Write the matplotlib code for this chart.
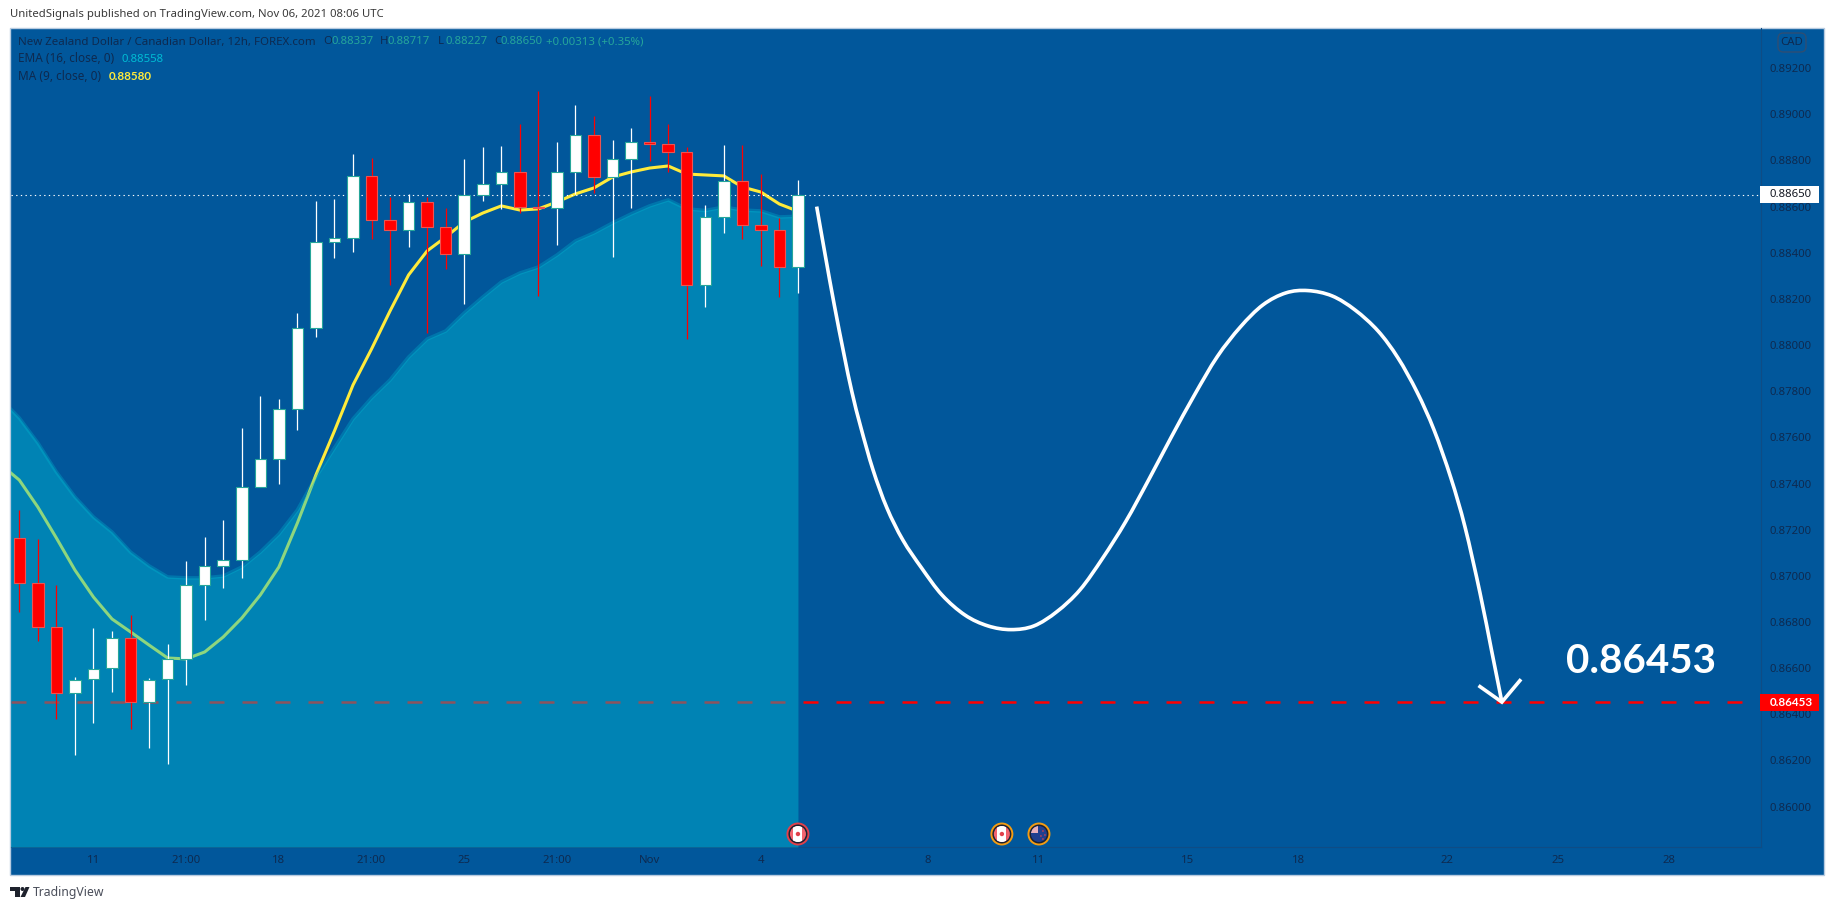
import numpy as np
import matplotlib
matplotlib.use("Agg")
import matplotlib.pyplot as plt
from matplotlib.path import Path
from matplotlib.patches import Rectangle, Circle, Polygon, FancyBboxPatch, PathPatch
from matplotlib.transforms import IdentityTransform

plt.rcParams['font.family'] = ['Noto Sans', 'DejaVu Sans']

# candles, 12h bars
opens = [0.87163, 0.86968, 0.86780, 0.86491, 0.86552, 0.86599, 0.86729, 0.86453, 0.86552, 0.86638, 0.86959,
         0.87041, 0.87067, 0.87384, 0.87505, 0.87722, 0.88072, 0.88445, 0.88463, 0.88734, 0.88541, 0.88497,
         0.88618, 0.88510, 0.88394, 0.88650, 0.88697, 0.88749, 0.88597, 0.88593, 0.88749, 0.88909, 0.88727,
         0.88805, 0.88879, 0.88870, 0.88836, 0.88259, 0.88557, 0.88710, 0.88519, 0.88497, 0.88337]
highs = [0.87285, 0.87158, 0.86959, 0.86560, 0.86774, 0.86761, 0.86829, 0.86557, 0.86705, 0.87064, 0.87168,
         0.87242, 0.87641, 0.87779, 0.87766, 0.88139, 0.88625, 0.88633, 0.88828, 0.88810, 0.88640, 0.88654,
         0.88640, 0.88594, 0.88807, 0.88858, 0.88863, 0.88958, 0.89100, 0.88880, 0.89041, 0.88993, 0.88889,
         0.88941, 0.89080, 0.88958, 0.88857, 0.88607, 0.88867, 0.88867, 0.88742, 0.88551, 0.88717]
lows = [0.86845, 0.86719, 0.86381, 0.86224, 0.86364, 0.86498, 0.86335, 0.86254, 0.86185, 0.86528, 0.86809,
        0.86947, 0.86991, 0.87384, 0.87398, 0.87633, 0.88036, 0.88379, 0.88405, 0.88459, 0.88259, 0.88426,
        0.88052, 0.88331, 0.88179, 0.88626, 0.88591, 0.88574, 0.88214, 0.88435, 0.88655, 0.88658, 0.88383,
        0.88595, 0.88798, 0.88751, 0.88025, 0.88166, 0.88487, 0.88461, 0.88344, 0.88210, 0.88227]
closes = [0.86968, 0.86780, 0.86491, 0.86550, 0.86598, 0.86729, 0.86453, 0.86550, 0.86638, 0.86959, 0.87041,
          0.87067, 0.87384, 0.87505, 0.87722, 0.88072, 0.88445, 0.88463, 0.88734, 0.88541, 0.88497, 0.88618,
          0.88510, 0.88394, 0.88650, 0.88697, 0.88749, 0.88597, 0.88593, 0.88749, 0.88909, 0.88727, 0.88805,
          0.88879, 0.88870, 0.88836, 0.88259, 0.88557, 0.88710, 0.88519, 0.88497, 0.88337, 0.88650]

# first value of both lines sits at the left edge of the chart
ema16 = [0.87723, 0.87684, 0.87576, 0.87450, 0.87342, 0.87255, 0.87190, 0.87103, 0.87043, 0.86995, 0.86991,
         0.86991, 0.86999, 0.87038, 0.87103, 0.87181, 0.87285, 0.87428, 0.87554, 0.87680, 0.87771, 0.87849,
         0.87948, 0.88026, 0.88061, 0.88139, 0.88208, 0.88273, 0.88312, 0.88338, 0.88390, 0.88451, 0.88486,
         0.88529, 0.88568, 0.88603, 0.88629, 0.88590, 0.88583, 0.88598, 0.88585, 0.88581, 0.88555, 0.88558]
ma9 = [0.87447, 0.87415, 0.87298, 0.87164, 0.87025, 0.86908, 0.86813, 0.86757, 0.86700, 0.86644, 0.86640,
       0.86670, 0.86735, 0.86817, 0.86917, 0.87038, 0.87229, 0.87437, 0.87628, 0.87827, 0.87983, 0.88148,
       0.88304, 0.88408, 0.88468, 0.88533, 0.88572, 0.88603, 0.88585, 0.88590, 0.88620, 0.88655, 0.88681,
       0.88728, 0.88750, 0.88767, 0.88776, 0.88741, 0.88737, 0.88733, 0.88685, 0.88663, 0.88611, 0.88580]

# hand drawn forecast
curve_x = [43.01, 43.47, 43.95, 44.48, 44.91, 45.40, 46.05, 46.80, 47.66, 48.67, 49.77, 51.01, 52.25, 53.49,
           54.73, 55.97, 57.21, 58.44, 59.68, 60.91, 62.15, 63.39, 64.62, 65.86, 67.08, 68.32, 69.51, 70.81,
           72.05, 73.29, 74.36, 75.39, 76.31, 77.22, 77.98, 78.79, 79.43, 79.97]
curve_y = [0.88600, 0.88390, 0.88178, 0.87961, 0.87797, 0.87641, 0.87459, 0.87294, 0.87155, 0.87034, 0.86917,
           0.86830, 0.86783, 0.86767, 0.86783, 0.86845, 0.86939, 0.87077, 0.87235, 0.87415, 0.87603, 0.87784,
           0.87950, 0.88078, 0.88174, 0.88226, 0.88236, 0.88213, 0.88152, 0.88061, 0.87945, 0.87797, 0.87632,
           0.87424, 0.87212, 0.86926, 0.86670, 0.86453]
head_x = [78.79, 79.97, 80.94]
head_y = [0.86520, 0.86453, 0.86546]

target = 0.86453
last_price = 0.88650

price_ticks = [0.860, 0.862, 0.864, 0.866, 0.868, 0.870, 0.872, 0.874, 0.876, 0.878, 0.880, 0.882, 0.884,
               0.886, 0.888, 0.890, 0.892]
time_ticks = [4, 9, 14, 19, 24, 29, 34, 40, 49, 55, 63, 69, 77, 83, 89]
time_labels = ['11', '21:00', '18', '21:00', '25', '21:00', 'Nov', '4', '8', '11', '15', '18', '22', '25', '28']
event_bars = [42, 53, 55]

W, H = 1834, 910
BG = '#01579B'
DARK = '#0E2A50'
GREEN = '#26A69A'


def fx(px):
    return px / W


def fy(py):
    return 1 - py / H


def put(px, py, s, **kw):
    kw.setdefault('va', 'center')
    kw.setdefault('color', DARK)
    fig.text(fx(px), fy(py), s, **kw)


def smooth_path(xs, ys):
    # bezier through the read points, so the drawn line has no corners
    pts = np.column_stack([xs, ys])
    verts = [pts[0]]
    codes = [Path.MOVETO]
    for i in range(len(pts) - 1):
        before = pts[max(i - 1, 0)]
        after = pts[min(i + 2, len(pts) - 1)]
        verts += [pts[i] + (pts[i + 1] - before) / 6, pts[i + 1] - (after - pts[i]) / 6, pts[i + 1]]
        codes += [Path.CURVE4] * 3
    return Path(verts, codes)


fig = plt.figure(figsize=(W / 100, H / 100), dpi=100, facecolor='white')

# frame behind chart and both scales
fig.add_artist(Rectangle((fx(10), fy(874.5)), (1823.5 - 10) / W, (874.5 - 27.5) / H, transform=fig.transFigure,
                         facecolor=BG, edgecolor='#B7CBE0', linewidth=1.0, zorder=-1))

ax = fig.add_axes([fx(10.5), fy(847), (1760.5 - 10.5) / W, (847 - 27.5) / H])
ax.set_facecolor('none')
ax.set_xlim(-0.475, 93.92)
ax.set_ylim(0.85825, 0.89376)
for name in ['top', 'left']:
    ax.spines[name].set_visible(False)
for name in ['right', 'bottom']:
    ax.spines[name].set_color('#0F4C85')
    ax.spines[name].set_linewidth(0.8)

ax.yaxis.tick_right()
ax.set_yticks(price_ticks)
ax.set_yticklabels(['%.5f' % p for p in price_ticks])
ax.set_xticks(time_ticks)
ax.set_xticklabels(time_labels)
ax.tick_params(axis='y', length=0, pad=6.6, labelsize=8.2, labelcolor=DARK)
ax.tick_params(axis='x', length=0, pad=5.5, labelsize=8.2, labelcolor=DARK)

bar_x = np.arange(len(opens))
line_x = np.r_[-0.475, bar_x]

ax.axhline(target, color='#FF0000', lw=1.8, linestyle=(0, (6, 7.2)), zorder=1)
ax.plot(line_x, ma9, color='#FFEB3B', lw=2.2, zorder=2)
ax.fill_between(line_x, ema16, 0.85825, color='#00BCD4', alpha=0.445, linewidth=0, zorder=3)
ax.plot(line_x, ema16, color='#00BCD4', lw=2.6, alpha=0.3, zorder=3.1)
ax.axhline(last_price, color='white', lw=0.8, linestyle=(0, (1.2, 3)), zorder=3.5)

# candles
for x, o, h, l, c in zip(bar_x, opens, highs, lows, closes):
    up = c >= o
    ax.vlines(x, l, h, color='white' if up else '#FF0000', lw=0.9, zorder=4)
    ax.bar(x, abs(c - o), bottom=min(o, c), width=0.62, color='white' if up else '#FF0000',
           edgecolor=GREEN if up else '#EF5350', linewidth=0.8, zorder=5)

ax.add_patch(PathPatch(smooth_path(curve_x, curve_y), facecolor='none', edgecolor='white', lw=2.6, zorder=6))
ax.plot(head_x, head_y, color='white', lw=2.6, solid_joinstyle='miter', zorder=6)
ax.text(87.5, 0.86627, '0.86453', color='white', fontsize=29, fontweight='bold', family=['Lato', 'DejaVu Sans'],
        ha='center', va='center', zorder=7)

# header and legend
put(10, 15, 'UnitedSignals published on TradingView.com, Nov 06, 2021 08:06 UTC', fontsize=8.15, color='#3A3A3A')
put(18, 42, 'New Zealand Dollar / Canadian Dollar, 12h, FOREX.com', fontsize=8.3)
for px, s in [(323, 'O'), (380, 'H'), (438, 'L'), (494, 'C')]:
    put(px, 42, s, fontsize=8.2)
for px, s in [(331, '0.88337'), (387, '0.88717'), (445, '0.88227'), (501, '0.88650'), (546, '+0.00313 (+0.35%)')]:
    put(px, 42, s, fontsize=8.2, color=GREEN)
put(18, 59, 'EMA (16, close, 0)', fontsize=8.5)
put(122, 59, '0.88558', fontsize=8.2, color='#00BCD4')
put(18, 76, 'MA (9, close, 0)', fontsize=8.5)
put(109, 76, '0.88580', fontsize=8.4, color='#FFEB3B', fontweight='bold', family=['Lato', 'DejaVu Sans'])

# price scale badges
fig.add_artist(FancyBboxPatch((fx(1778), fy(52)), 28 / W, 19 / H, boxstyle='round,pad=0,rounding_size=0.003',
                              transform=fig.transFigure, facecolor='none', edgecolor='#2F4E73', linewidth=1.0,
                              mutation_aspect=2, zorder=3))
put(1792, 42.5, 'CAD', fontsize=8.2, ha='center', zorder=4)
fig.add_artist(Rectangle((fx(1760), fy(202.7)), 59 / W, 16.7 / H, transform=fig.transFigure, facecolor='white',
                         edgecolor='none', zorder=3))
put(1770, 194.5, '0.88650', fontsize=8.2, color='#131722', zorder=4)
fig.add_artist(Rectangle((fx(1760), fy(711)), 59 / W, 17 / H, transform=fig.transFigure, facecolor='#FF0000',
                         edgecolor='none', zorder=3))
put(1770, 702.5, '0.86453', fontsize=8.4, color='white', fontweight='bold', family=['Lato', 'DejaVu Sans'], zorder=4)

# event flags on the time line
ident = IdentityTransform()
for bar, ring, nz in zip(event_bars, ['#E0404A', '#F39C12', '#F39C12'], [False, False, True]):
    cx = ax.transData.transform((bar, 0.87))[0]
    cy = H - 834
    fig.add_artist(Circle((cx, cy), 10.5, transform=ident, facecolor='#1B2233', edgecolor=ring, linewidth=1.4, zorder=5))
    clip = Circle((cx, cy), 8, transform=ident)
    if nz:
        base = Rectangle((cx - 9, cy - 9), 18, 18, transform=ident, facecolor='#1F3F8F', edgecolor='none', zorder=6)
        union = Rectangle((cx - 9, cy + 1), 8, 8, transform=ident, facecolor='#E8B0BC', edgecolor='none', zorder=7)
        for art in (base, union):
            fig.add_artist(art)
            art.set_clip_path(clip)
        for dx, dy in [(4, 3), (2, -2), (6, -1), (4, -5)]:
            fig.add_artist(Circle((cx + dx, cy + dy), 0.8, transform=ident, facecolor='#E0404A', edgecolor='none',
                                  zorder=8))
    else:
        base = Rectangle((cx - 9, cy - 9), 18, 18, transform=ident, facecolor='#F2646E', edgecolor='none', zorder=6)
        mid = Rectangle((cx - 4.5, cy - 9), 9, 18, transform=ident, facecolor='white', edgecolor='none', zorder=7)
        for art in (base, mid):
            fig.add_artist(art)
            art.set_clip_path(clip)
        fig.add_artist(Circle((cx, cy), 2.2, transform=ident, facecolor='#E0404A', edgecolor='none', zorder=8))

# TradingView mark
logo = '#1E222D'
fig.add_artist(Polygon([(fx(10), fy(887)), (fx(20), fy(887)), (fx(20), fy(897)), (fx(15), fy(897)), (fx(15), fy(891)),
                        (fx(10), fy(891))], closed=True, transform=fig.transFigure, facecolor=logo, edgecolor='none'))
fig.add_artist(Polygon([(fx(25.5), fy(887)), (fx(29.5), fy(887)), (fx(25), fy(897)), (fx(20.5), fy(897))], closed=True,
                       transform=fig.transFigure, facecolor=logo, edgecolor='none'))
fig.add_artist(Circle((22.5, H - 889), 2, transform=ident, facecolor=logo, edgecolor='none'))
put(33, 892.5, 'TradingView', fontsize=8.8, color='#4A4E5A')

fig.savefig('out.png', dpi=100, facecolor='white')
